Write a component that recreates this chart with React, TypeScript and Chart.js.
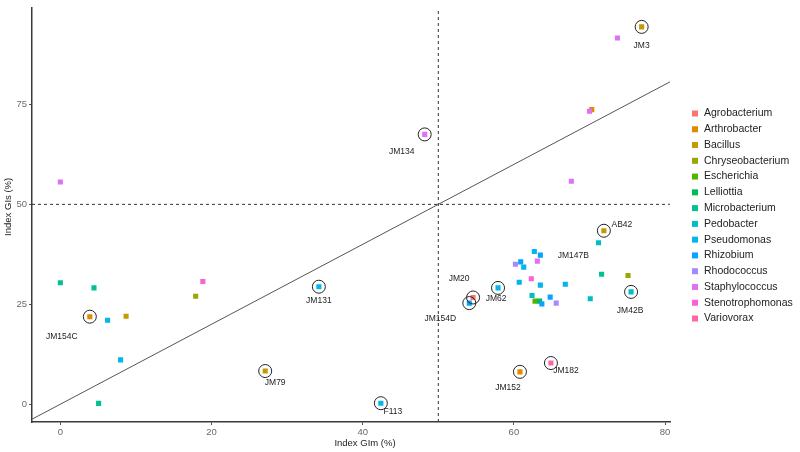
import React, { useEffect, useRef } from "react";
import { Chart, registerables } from "chart.js";

Chart.register(...registerables);

// ---------- data ----------
const genera = [
  "Agrobacterium",
  "Arthrobacter",
  "Bacillus",
  "Chryseobacterium",
  "Escherichia",
  "Lelliottia",
  "Microbacterium",
  "Pedobacter",
  "Pseudomonas",
  "Rhizobium",
  "Rhodococcus",
  "Staphylococcus",
  "Stenotrophomonas",
  "Variovorax",
];

const generaColors = [
  "#F8766D",
  "#E38900",
  "#C49A00",
  "#99A800",
  "#53B400",
  "#00BC56",
  "#00C094",
  "#00BFC4",
  "#00B6EB",
  "#06A4FF",
  "#A58AFF",
  "#DF70F8",
  "#FB61D7",
  "#FF66A8",
];

// [Index GIm, Index GIs]
const agrobacterium: [number, number][] = [[54.6, 26.7]];
const arthrobacter: [number, number][] = [[3.9, 21.9], [60.8, 8.1], [70.3, 73.7]];
const bacillus: [number, number][] = [[76.9, 94.4], [71.9, 43.4], [8.7, 22.0], [27.1, 8.3]];
const chryseobacterium: [number, number][] = [[17.9, 27.0], [75.1, 32.2]];
const escherichia: [number, number][] = [[62.8, 25.8]];
const lelliottia: [number, number][] = [[63.4, 25.8]];
const microbacterium: [number, number][] = [[0, 30.4], [4.45, 29.1], [5.06, 0.2], [71.6, 32.5]];
const pedobacter: [number, number][] = [[71.2, 40.4], [62.4, 27.2], [70.1, 26.4], [75.5, 28.1]];
const pseudomonas: [number, number][] = [
  [6.25, 21.0], [7.97, 11.1], [34.2, 29.4], [42.4, 0.25], [57.9, 29.1],
  [62.7, 38.2], [60.7, 30.5], [63.5, 29.8], [66.8, 30.0], [61.3, 34.3],
];
const rhizobium: [number, number][] = [[54.1, 25.3], [63.5, 37.3], [60.9, 35.6], [64.8, 26.8], [63.7, 25.1]];
const rhodococcus: [number, number][] = [[65.6, 25.3], [60.2, 35.0]];
const staphylococcus: [number, number][] = [[0, 55.6], [73.7, 91.6], [70.0, 73.3], [48.2, 67.5], [67.6, 55.8], [63.1, 35.8]];
const stenotrophomonas: [number, number][] = [[18.85, 30.7], [62.3, 31.4]];
const variovorax: [number, number][] = [[64.9, 10.3]];

const pointsByGenus = [
  agrobacterium, arthrobacter, bacillus, chryseobacterium, escherichia, lelliottia,
  microbacterium, pedobacter, pseudomonas, rhizobium, rhodococcus, staphylococcus,
  stenotrophomonas, variovorax,
];

const strainNames = ["JM3", "JM134", "AB42", "JM147B", "JM20", "JM62", "JM154D", "JM42B", "JM182", "JM152", "F113", "JM131", "JM154C", "JM79"];
const strainX = [76.9, 48.2, 71.9, 63.5, 54.6, 57.9, 54.1, 75.5, 64.9, 60.8, 42.4, 34.2, 3.9, 27.1];
const strainY = [94.4, 67.5, 43.4, 37.3, 26.7, 29.1, 25.3, 28.1, 10.3, 8.1, 0.25, 29.4, 21.9, 8.3];
const strainCircled = [true, true, true, false, true, true, true, true, true, true, true, true, true, true];

const xTicks = [0, 20, 40, 60, 80];
const yTicks = [0, 25, 50, 75];
const thresholdGIm = 50;
const thresholdGIs = 50;

const xTitle = "Index GIm (%)";
const yTitle = "Index GIs (%)";

// ---------- layout / style (not data) ----------
const X_MIN = -3.75;
const X_MAX = 80.65;
const Y_MIN = -4.45;
const Y_MAX = 99.2;

// pixel offsets of each strain label relative to its point
const labelOffsets: [number, number][] = [
  [0, 19], [-23, 17], [18, -6], [33, 1], [-14, -19], [-2, 11], [-29, 16],
  [-1, 19], [15, 8], [-12, 16], [12, 8], [0, 14], [-28, 20], [10, 12],
];

const annotPlugin = {
  id: "annot",
  afterDatasetsDraw(chart: any) {
    const { ctx, chartArea } = chart;
    const xs = chart.scales.x;
    const ys = chart.scales.y;
    ctx.save();
    // strain labels
    ctx.font = '8.5px "Liberation Sans", Arial, sans-serif';
    ctx.fillStyle = "#222";
    ctx.textAlign = "center";
    ctx.textBaseline = "middle";
    strainNames.forEach((n, i) => {
      const px = xs.getPixelForValue(strainX[i]) + labelOffsets[i][0];
      const py = ys.getPixelForValue(strainY[i]) + labelOffsets[i][1];
      ctx.fillText(n, px, py);
    });
    // legend
    const lx = chartArea.right + 25;
    const top = 113.5;
    const step = 15.77;
    ctx.font = '10.5px "Liberation Sans", Arial, sans-serif';
    ctx.textAlign = "left";
    genera.forEach((g, i) => {
      const cy = top + i * step;
      ctx.fillStyle = generaColors[i];
      ctx.fillRect(lx - 3, cy - 3, 6, 6);
      ctx.fillStyle = "#222";
      ctx.fillText(g, lx + 9, cy);
    });
    // axis titles
    ctx.font = '9.5px "Liberation Sans", Arial, sans-serif';
    ctx.fillStyle = "#222";
    ctx.textAlign = "center";
    ctx.fillText(xTitle, (chartArea.left + chartArea.right) / 2 + 14, chart.height - 8.5);
    ctx.translate(8.5, (chartArea.top + chartArea.bottom) / 2 - 8);
    ctx.rotate(-Math.PI / 2);
    ctx.fillText(yTitle, 0, 0);
    ctx.restore();
  },
};

export default function App() {
  const canvasRef = useRef<HTMLCanvasElement | null>(null);

  useEffect(() => {
    const canvas = canvasRef.current;
    if (!canvas) return;

    const pointSets = genera.map((g, i) => ({
      label: g,
      data: pointsByGenus[i].map(([x, y]) => ({ x, y })),
      pointStyle: "rect",
      pointRadius: 3.6,
      pointHoverRadius: 3.6,
      backgroundColor: generaColors[i],
      borderColor: generaColors[i],
      borderWidth: 0,
      order: -i,
    }));

    const circleSet = {
      label: "circled",
      data: strainX
        .map((x, i) => ({ x, y: strainY[i], c: strainCircled[i] }))
        .filter((p) => p.c)
        .map(({ x, y }) => ({ x, y })),
      pointStyle: "circle",
      pointRadius: 6.5,
      pointHoverRadius: 6.5,
      backgroundColor: "rgba(0,0,0,0)",
      borderColor: "#222",
      borderWidth: 1,
      order: -30,
    };

    const diagonal = {
      label: "y=x",
      data: [{ x: X_MIN, y: X_MIN }, { x: X_MAX, y: X_MAX }],
      showLine: true,
      pointRadius: 0,
      borderColor: "#555",
      borderWidth: 1,
      order: 5,
    };
    const vLine = {
      label: "v",
      data: [{ x: thresholdGIm, y: Y_MIN }, { x: thresholdGIm, y: Y_MAX }],
      showLine: true,
      pointRadius: 0,
      borderColor: "#333",
      borderWidth: 1,
      borderDash: [3, 3],
      order: 5,
    };
    const hLine = {
      label: "h",
      data: [{ x: X_MIN, y: thresholdGIs }, { x: X_MAX, y: thresholdGIs }],
      showLine: true,
      pointRadius: 0,
      borderColor: "#333",
      borderWidth: 1,
      borderDash: [3, 3],
      order: 5,
    };

    const tickFont = { family: '"Liberation Sans", Arial, sans-serif', size: 9.5 };

    const chart = new Chart(canvas, {
      type: "scatter",
      data: { datasets: [...pointSets, circleSet, diagonal, vLine, hLine] as any },
      options: {
        responsive: false,
        animation: false,
        devicePixelRatio: 1,
        layout: { padding: { left: 0, right: 130, top: 3, bottom: 0 } },
        plugins: { legend: { display: false }, tooltip: { enabled: false } },
        events: [],
        scales: {
          x: {
            type: "linear",
            min: X_MIN,
            max: X_MAX,
            afterBuildTicks: (s: any) => {
              s.ticks = xTicks.map((v) => ({ value: v }));
            },
            afterFit: (s: any) => {
              s.height = 30;
            },
            ticks: { font: tickFont, color: "#6a6a6a", padding: 2, autoSkip: false, maxRotation: 0 },
            grid: { display: true, drawOnChartArea: false, drawTicks: true, tickLength: 3, color: "#555", tickColor: "#555" },
            border: { display: true, color: "#3a3a3a", width: 1.5 },
            title: { display: false },
          },
          y: {
            type: "linear",
            min: Y_MIN,
            max: Y_MAX,
            afterBuildTicks: (s: any) => {
              s.ticks = yTicks.map((v) => ({ value: v }));
            },
            afterFit: (s: any) => {
              s.width = 32;
            },
            ticks: { font: tickFont, color: "#6a6a6a", padding: 2, autoSkip: false },
            grid: { display: true, drawOnChartArea: false, drawTicks: true, tickLength: 3, color: "#555", tickColor: "#555" },
            border: { display: true, color: "#3a3a3a", width: 1.5 },
            title: { display: false },
          },
        },
      } as any,
      plugins: [annotPlugin],
    });

    return () => chart.destroy();
  }, []);

  return (
    <div style={{ position: "fixed", left: 0, top: 0, width: 800, height: 452, background: "#fff" }}>
      <canvas ref={canvasRef} width={800} height={452} style={{ display: "block" }} />
    </div>
  );
}
